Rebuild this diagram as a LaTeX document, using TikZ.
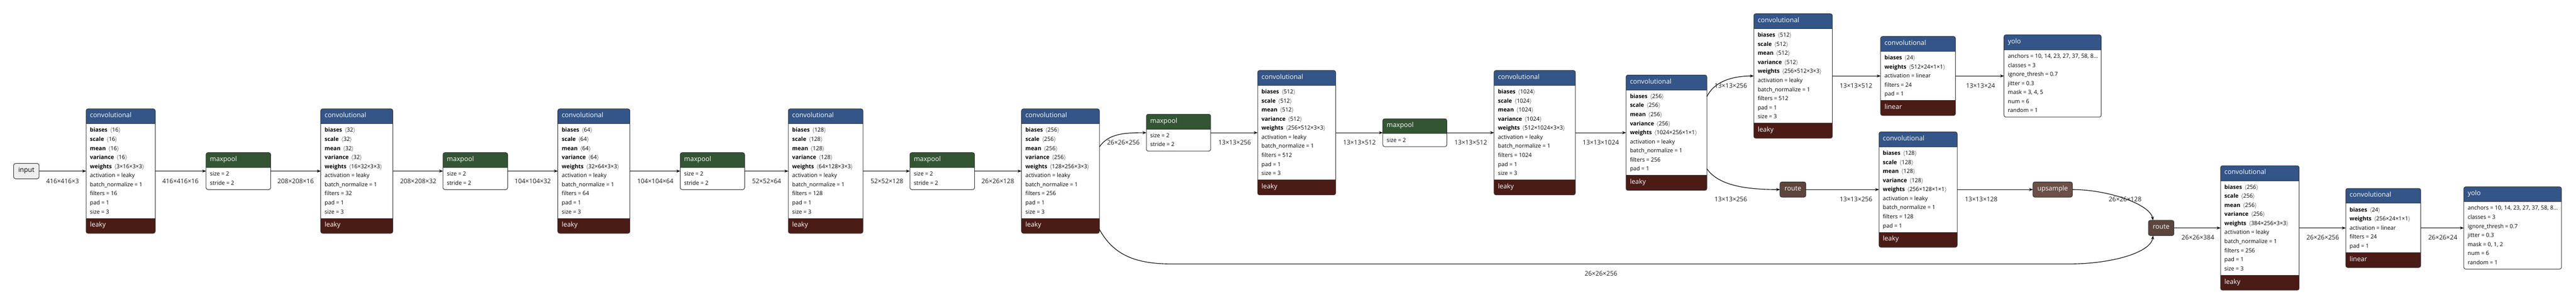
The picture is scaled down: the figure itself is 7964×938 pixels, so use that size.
\documentclass[tikz,border=0pt]{standalone}
\usepackage{fontspec}
\setmainfont{Open Sans}
\usetikzlibrary{arrows.meta}
\definecolor{hdr}{HTML}{335588}
\definecolor{pool}{HTML}{335533}
\definecolor{act}{HTML}{4B1B16}
\definecolor{routec}{HTML}{5D453D}
\definecolor{upc}{HTML}{6C4F47}
\definecolor{bord}{HTML}{333333}
\definecolor{inputc}{HTML}{EEEEEE}
\tikzset{
  attr/.style={anchor=west, inner sep=0pt, text height=0.72em, text depth=0pt, font=\fontsize{17.3}{20}\selectfont, text=black},
  ttl/.style={anchor=west, inner sep=0pt, text height=0.72em, text depth=0pt, font=\fontsize{20.4}{24}\selectfont, text=white},
  lbl/.style={inner sep=0pt, text height=0.72em, text depth=0pt, font=\fontsize{19.6}{23}\selectfont, text=black!88},
  edge/.style={draw=black, line width=1.8pt, -{Stealth[length=12pt,width=9pt]}},
  pill/.style={draw=bord, line width=1.6pt, rounded corners=6pt, inner sep=0pt, outer sep=0pt, minimum height=47pt, anchor=west, text height=0.72em, text depth=0pt, font=\fontsize{20.4}{24}\selectfont},
}
\newcommand\tsr[2]{\textbf{#1}\hspace{0.45em}$\langle$#2$\rangle$}
\newcommand\blk[8]{%
  \xdef\curname{#1}\xdef\curx{#2}\xdef\curt{#3}%
  \pgfmathsetmacro\bodyend{#3+58+28*#5}%
  \def\tmpf{#8}%
  \ifx\tmpf\empty\let\botY\bodyend\else\pgfmathsetmacro\botY{\bodyend+46}\fi
  \begin{scope}
    \clip[rounded corners=6pt] (#2,#3) rectangle ({#2+#4},\botY);
    \fill[#6] (#2,#3) rectangle ({#2+#4},{#3+46});
    \fill[white] (#2,{#3+46}) rectangle ({#2+#4},\bodyend);
    \ifx\tmpf\empty\else\fill[act] (#2,\bodyend) rectangle ({#2+#4},\botY);\fi
  \end{scope}
  \draw[bord, line width=1.6pt] (#2,{#3+46}) -- ({#2+#4},{#3+46});
  \ifx\tmpf\empty\else
    \draw[bord, line width=1.6pt] (#2,\bodyend) -- ({#2+#4},\bodyend);
    \node[ttl] (#1-f) at ({#2+12},{\bodyend+23}) {#8};
  \fi
  \node[draw=bord, line width=1.6pt, rounded corners=6pt, inner sep=0pt, outer sep=0pt,
        minimum width=#4, minimum height={\botY-#3}, anchor=north west] (#1) at (#2,#3) {};
  \node[ttl] (#1-t) at ({#2+12},{#3+23}) {#7};
}
\newcommand\arow[2]{\node[attr] (\curname-r#1) at ({\curx+12},{\curt+40+28*#1}) {#2};}
\newcommand\convrows[2]{%
  \arow{1}{\tsr{biases}{#1}}\arow{2}{\tsr{scale}{#1}}\arow{3}{\tsr{mean}{#1}}%
  \arow{4}{\tsr{variance}{#1}}\arow{5}{\tsr{weights}{#2}}\arow{6}{activation = leaky}%
  \arow{7}{batch\_normalize = 1}\arow{8}{filters = #1}\arow{9}{pad = 1}}
\newcommand\poolrows{\arow{1}{size = 2}\arow{2}{stride = 2}}
\newcommand\linrows[1]{%
  \arow{1}{\tsr{biases}{24}}\arow{2}{\tsr{weights}{#1}}\arow{3}{activation = linear}%
  \arow{4}{filters = 24}\arow{5}{pad = 1}}
\newcommand\yolorows[1]{%
  \arow{1}{anchors = 10, 14, 23, 27, 37, 58, 8…}\arow{2}{classes = 3}%
  \arow{3}{ignore\_thresh = 0.7}\arow{4}{jitter = 0.3}\arow{5}{mask = #1}%
  \arow{6}{num = 6}\arow{7}{random = 1}}
\begin{document}
\begin{tikzpicture}[x=1pt,y=-1pt]
\fill[white] (0,0) rectangle (7964,938);
\useasboundingbox (0,0) rectangle (7964,938);

% main row
\node[pill, fill=inputc, minimum width=79pt] (in) at (42,528) {input};
\blk{c1}{266}{336}{214}{10}{hdr}{convolutional}{leaky}\convrows{16}{3×16×3×3}\arow{10}{size = 3}
\blk{mp1}{637}{471}{200}{2}{pool}{maxpool}{}\poolrows
\blk{c2}{991.5}{336}{223}{10}{hdr}{convolutional}{leaky}\convrows{32}{16×32×3×3}\arow{10}{size = 3}
\blk{mp2}{1369.5}{471}{200}{2}{pool}{maxpool}{}\poolrows
\blk{c3}{1724.5}{336}{223}{10}{hdr}{convolutional}{leaky}\convrows{64}{32×64×3×3}\arow{10}{size = 3}
\blk{mp3}{2103}{471}{199}{2}{pool}{maxpool}{}\poolrows
\blk{c4}{2437}{336}{231}{10}{hdr}{convolutional}{leaky}\convrows{128}{64×128×3×3}\arow{10}{size = 3}
\blk{mp4}{2813}{471}{200}{2}{pool}{maxpool}{}\poolrows
\blk{c5}{3158}{336}{241}{10}{hdr}{convolutional}{leaky}\convrows{256}{128×256×3×3}\arow{10}{size = 3}
\blk{mp5}{3544}{352.5}{199}{2}{pool}{maxpool}{}\poolrows
\blk{c6}{3888}{217.5}{241.5}{10}{hdr}{convolutional}{leaky}\convrows{512}{256×512×3×3}\arow{10}{size = 3}
\blk{mp6}{4275}{366.5}{198}{1}{pool}{maxpool}{}\arow{1}{size = 2}
\blk{c7}{4619}{217.5}{251.5}{10}{hdr}{convolutional}{leaky}\convrows{1024}{512×1024×3×3}\arow{10}{size = 3}
\blk{c8}{5027}{231.5}{250}{9}{hdr}{convolutional}{leaky}\convrows{256}{1024×256×1×1}
% upper branch
\blk{c9}{5422}{42.5}{243}{10}{hdr}{convolutional}{leaky}\convrows{512}{256×512×3×3}\arow{10}{size = 3}
\blk{c10}{5814}{112.5}{231.5}{5}{hdr}{convolutional}{linear}\linrows{512×24×1×1}
\blk{y1}{6195.5}{107.5}{300.5}{7}{hdr}{yolo}{}\yolorows{3, 4, 5}
% lower branch
\node[pill, fill=routec, text=white, minimum width=80pt] (r1) at (5503,585) {route};
\blk{c11}{5809}{407}{242}{9}{hdr}{convolutional}{leaky}\convrows{128}{256×128×1×1}
\node[pill, fill=upc, text=white, minimum width=122pt] (up) at (6285,585) {upsample};
\node[pill, fill=routec, text=white, minimum width=79pt] (r2) at (6642,703.5) {route};
\blk{c12}{6865}{511.5}{243}{10}{hdr}{convolutional}{leaky}\convrows{256}{384×256×3×3}\arow{10}{size = 3}
\blk{c13}{7252}{581.5}{232}{5}{hdr}{convolutional}{linear}\linrows{256×24×1×1}
\blk{y2}{7617}{576.5}{302}{7}{hdr}{yolo}{}\yolorows{0, 1, 2}

% connectors
\draw[edge] (in.east) -- (c1.west);
\draw[edge] (c1.east) -- (mp1.west);
\draw[edge] (mp1.east) -- (c2.west);
\draw[edge] (c2.east) -- (mp2.west);
\draw[edge] (mp2.east) -- (c3.west);
\draw[edge] (c3.east) -- (mp3.west);
\draw[edge] (mp3.east) -- (c4.west);
\draw[edge] (c4.east) -- (mp4.west);
\draw[edge] (mp4.east) -- (c5.west);
\draw[edge] ([yshift=75pt]c5.east) .. controls +(28,-40) and +(-70,0) .. (mp5.west);
\draw[edge] (mp5.east) -- (c6.west);
\draw[edge] (c6.east) -- (mp6.west);
\draw[edge] (mp6.east) -- (c7.west);
\draw[edge] (c7.east) -- (c8.west);
\draw[edge] ([yshift=111.5pt]c8.east) .. controls +(25,-50) and +(-60,0) .. (c9.west);
\draw[edge] (c9.east) -- (c10.west);
\draw[edge] (c10.east) -- (y1.west);
\draw[edge] ([yshift=-111.5pt]c8.east) .. controls +(35,50) and +(-110,0) .. (r1.west);
\draw[edge] (r1.east) -- (c11.west);
\draw[edge] (c11.east) -- (up.west);
\draw[edge] (up.east) .. controls +(110,0) and +(-10,-50) .. ([xshift=-25pt]r2.north);
\coordinate (k1) at (3620,814.5);
\coordinate (k2) at (6400,814.5);
\draw[edge] ([yshift=-180pt]c5.east) .. controls +(40,72) and +(-120,0) .. (k1) -- (k2)
  .. controls +(120,0) and +(-8,55) .. ([xshift=-25pt]r2.south);
\draw[edge] (r2.east) -- (c12.west);
\draw[edge] (c12.east) -- (c13.west);
\draw[edge] (c13.east) -- (y2.west);

% connector labels
\node[lbl] (e1) at (193.5,562) {416×416×3};
\node[lbl] (e2) at (558,562) {416×416×16};
\node[lbl] (e3) at (914,562) {208×208×16};
\node[lbl] (e4) at (1293,562) {208×208×32};
\node[lbl] (e5) at (1647,562) {104×104×32};
\node[lbl] (e6) at (2026,562) {104×104×64};
\node[lbl] (e7) at (2370,562) {52×52×64};
\node[lbl] (e8) at (2742,562) {52×52×128};
\node[lbl] (e9) at (3085,562) {26×26×128};
\node[lbl] (e10) at (3473,443) {26×26×256};
\node[lbl] (e11) at (3817,443) {13×13×256};
\node[lbl] (e12) at (4203,443) {13×13×512};
\node[lbl] (e13) at (4547,443) {13×13×512};
\node[lbl] (e14) at (4949,443) {13×13×1024};
\node[lbl] (e15) at (5351,268.5) {13×13×256};
\node[lbl] (e16) at (5738,268.5) {13×13×512};
\node[lbl] (e17) at (6123,268.5) {13×13×24};
\node[lbl] (e18) at (5351,618.5) {13×13×256};
\node[lbl] (e19) at (5738,618.5) {13×13×256};
\node[lbl] (e20) at (6125,618.5) {13×13×128};
\node[lbl] (e21) at (6570,618.5) {26×26×128};
\node[lbl] (e22) at (4949.5,848) {26×26×256};
\node[lbl] (e23) at (6795,736.5) {26×26×384};
\node[lbl] (e24) at (7181,736.5) {26×26×256};
\node[lbl] (e25) at (7552,736.5) {26×26×24};
\end{tikzpicture}
\end{document}
